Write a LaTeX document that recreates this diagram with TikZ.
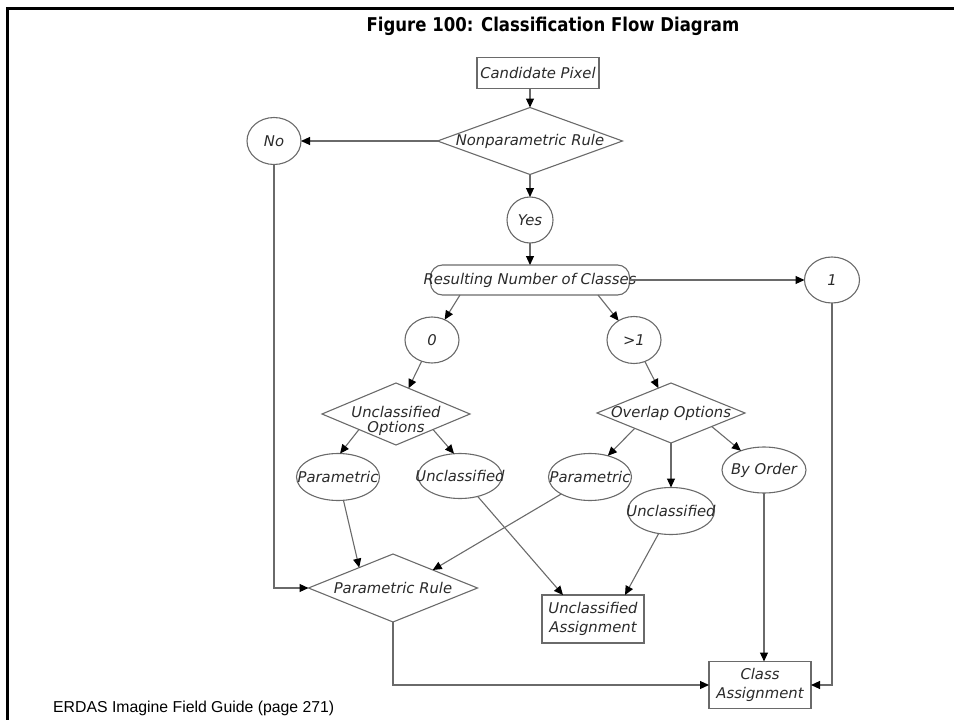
\documentclass[tikz,border=0pt]{standalone}
\usepackage{fontspec}
\setmainfont{DejaVu Sans}
\newfontfamily\titlefont[FakeStretch=0.87]{DejaVu Sans}
\newfontfamily\footfont{Liberation Sans}
\usetikzlibrary{shapes.geometric,arrows.meta,calc}
\definecolor{lncol}{HTML}{6A6A6A}
\definecolor{txcol}{HTML}{2A2A2A}
\begin{document}
\begin{tikzpicture}[x=1pt,y=-1pt,
  shp/.style={draw=lncol, line width=1.1pt, inner sep=0pt, outer sep=0pt},
  ell/.style={shp, ellipse},
  dia/.style={shp, diamond},
  boxn/.style={shp, rectangle},
  txt/.style={text=txcol, font=\fontsize{14.8}{19}\selectfont\itshape, inner sep=0pt, align=center},
  arr/.style={draw=lncol, line width=1.1pt, -{Triangle[length=9pt,width=8pt,color=black]}},
  plain/.style={draw=lncol, line width=1.1pt}
]
\useasboundingbox (0,0) rectangle (954,720);
\draw[line width=3pt, line cap=rect] (7,720) -- (7,8) -- (954,8);

\node[font=\titlefont\bfseries\fontsize{19}{22}\selectfont, text=black, inner sep=0pt] (title) at (553,26) {Figure 100: Classification Flow Diagram};

% shapes
\node[boxn, minimum width=122pt, minimum height=31pt, label={[txt]center:Candidate Pixel}] (cand) at (538,73) {};
\node[dia, minimum width=185pt, minimum height=67pt, label={[txt]center:Nonparametric Rule}] (nonpar) at (530,141) {};
\node[ell, minimum width=54pt, minimum height=47pt, label={[txt]center:No}] (no) at (274,141) {};
\node[ell, minimum width=46pt, minimum height=46pt, label={[txt]center:Yes}] (yes) at (530,220) {};
\node[boxn, rounded corners=12pt, minimum width=199pt, minimum height=30pt, label={[txt]center:Resulting Number of Classes}] (rnc) at (530,280) {};
\node[ell, minimum width=55pt, minimum height=46pt, label={[txt]center:1}] (one) at (832,280) {};
\node[ell, minimum width=54pt, minimum height=46pt, label={[txt]center:0}] (zero) at (432,340) {};
\node[ell, minimum width=54pt, minimum height=47pt, label={[txt]center:>1}] (gt1) at (634,340) {};
\node[dia, minimum width=148pt, minimum height=62pt] (uopt) at (396,414) {};
\node[txt, font=\fontsize{14.8}{14.5}\selectfont\itshape] (uopttxt) at (396,421) {Unclassified\\Options};
\node[dia, minimum width=148pt, minimum height=60pt, label={[txt]center:Overlap Options}] (oopt) at (671,413) {};
\node[ell, minimum width=83pt, minimum height=47pt, label={[txt]center:Parametric}] (parL) at (338,477) {};
\node[ell, minimum width=84pt, minimum height=45pt, label={[txt]center:Unclassified}] (uncL) at (460,476) {};
\node[ell, minimum width=83pt, minimum height=47pt, label={[txt]center:Parametric}] (parR) at (590,477) {};
\node[ell, minimum width=87pt, minimum height=47pt, label={[txt]center:Unclassified}] (uncR) at (671,511) {};
\node[ell, minimum width=84pt, minimum height=46pt, label={[txt]center:By Order}] (byord) at (764,470) {};
\node[dia, minimum width=169pt, minimum height=68pt, label={[txt]center:Parametric Rule}] (prule) at (393,588) {};
\node[boxn, minimum width=102pt, minimum height=48pt] (uasg) at (593,619) {};
\node[txt] (uasgtxt) at (593,619) {Unclassified\\Assignment};
\node[boxn, minimum width=102pt, minimum height=47pt] (class) at (760,685) {};
\node[txt] (classtxt) at (760,685) {Class\\Assignment};

\node[anchor=west, font=\footfont\fontsize{15.8}{18}\selectfont, inner sep=0pt] (foot) at (53,708) {ERDAS Imagine Field Guide (page 271)};

% connectors
\draw[arr] (cand.south -| nonpar.north) -- (nonpar.north);
\draw[arr] (nonpar.west) -- (no.east);
\draw[arr] (nonpar.south) -- (yes.north);
\draw[arr] (yes.south) -- (rnc.north);
\draw[arr] (rnc.east) -- (one.west);
\draw[arr] ($(rnc.south)+(-70,0)$) -- (zero);
\draw[arr] ($(rnc.south)+(68,0)$) -- (gt1);
\draw[arr] (one.south) |- (class.east);
\draw[arr] (zero) -- (uopt);
\draw[arr] (gt1) -- (oopt);
\draw[arr] ($(uopt.south)!0.5!(uopt.west)$) -- (parL.85);
\draw[arr] ($(uopt.south)!0.5!(uopt.east)$) -- (uncL.105);
\draw[arr] ($(oopt.south)!0.49!(oopt.west)$) -- (parR.50);
\draw[arr] (oopt.south) -- (uncR.north);
\draw[arr] ($(oopt.south)!0.55!(oopt.east)$) -- (byord);
\draw[arr] (no.south) |- (prule.west);
\draw[arr] (parL) -- ($(prule.north)!0.4!(prule.west)$);
\draw[arr] (parR) -- ($(prule.north)!0.47!(prule.east)$);
\draw[arr] (uncL) -- ($(uasg.north)+(-30,0)$);
\draw[arr] (uncR) -- ($(uasg.north)+(32,0)$);
\draw[arr] (byord.south) -- (byord.south |- class.north);
\draw[arr] (prule.south) |- (class.west);
\end{tikzpicture}
\end{document}
